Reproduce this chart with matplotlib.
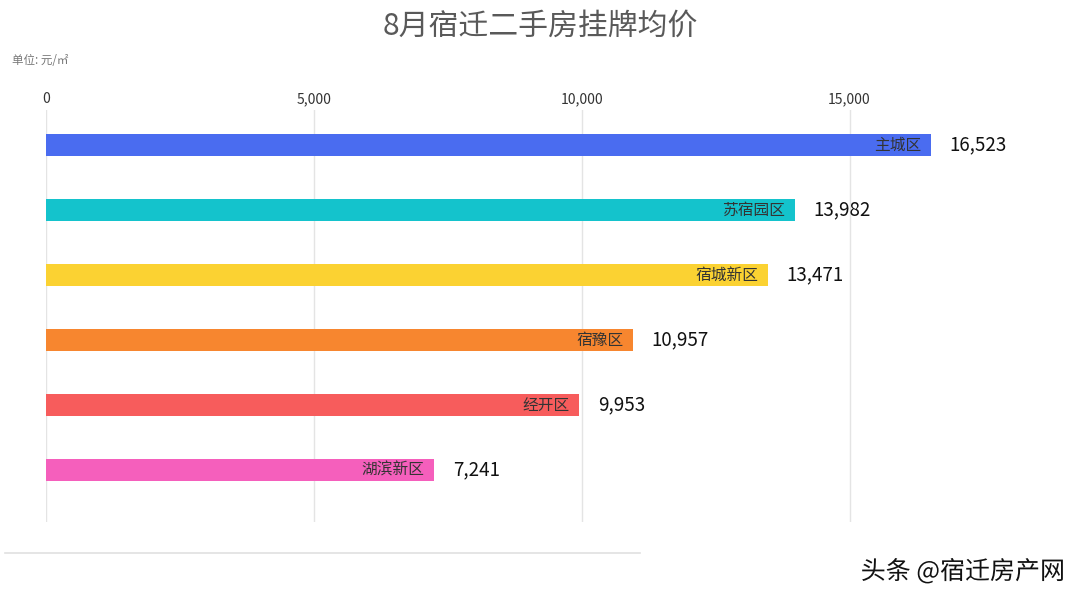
import matplotlib.pyplot as plt
from matplotlib.lines import Line2D
import matplotlib.patheffects as pe

plt.rcParams['font.family'] = ['Noto Sans CJK SC', 'DejaVu Sans']

districts = ['主城区', '苏宿园区', '宿城新区', '宿豫区', '经开区', '湖滨新区']
prices = [16523, 13982, 13471, 10957, 9953, 7241]
colors = ['#4a6cf0', '#14c3cc', '#fbd232', '#f7862f', '#f75c5c', '#f55fbc']
ticks = [0, 5000, 10000, 15000]

fig = plt.figure(figsize=(10.8, 6.03), dpi=100)
W, H = 1080, 603
ax = fig.add_axes([46 / W, 1 - 522 / H, (1037 - 46) / W, (522 - 110) / H])

y = list(range(len(districts)))
ax.barh(y, prices, height=0.35, color=colors, zorder=2)
ax.set_ylim(5.8, -0.54)
ax.set_xlim(0, 18500)

for i, (name, v) in enumerate(zip(districts, prices)):
    ax.text(v - 180, i, name, ha='right', va='center', fontsize=11.3, color='#333333', zorder=3)
    ax.text(v + 350, i, f'{v:,}', ha='left', va='center', fontsize=13.5,
            color='#111111', fontweight='medium', zorder=3)

ax.xaxis.tick_top()
ax.set_xticks(ticks)
ax.set_xticklabels([f'{t:,}' for t in ticks], fontsize=10, color='#333333')
ax.tick_params(axis='x', length=0, pad=3)
ax.set_yticks([])
for s in ax.spines.values():
    s.set_visible(False)
ax.grid(axis='x', color='#e4e4e4', linewidth=1, zorder=0)

fig.text(540 / W, 1 - 26 / H, '8月宿迁二手房挂牌均价', ha='center', va='center',
         fontsize=21.5, color='#595959')
fig.text(12 / W, 1 - 60 / H, '单位: 元/㎡', ha='left', va='center', fontsize=8.3, color='#777777')

fig.add_artist(Line2D([5 / W, 640 / W], [1 - 553 / H, 1 - 553 / H], color='#e0e0e0', linewidth=1.2))

fig.text(1065 / W, 1 - 572 / H, '头条 @宿迁房产网', ha='right', va='center', fontsize=18,
         color='#111111', path_effects=[pe.withStroke(linewidth=3, foreground='white')])

fig.savefig('out.png', dpi=100, facecolor='white')
